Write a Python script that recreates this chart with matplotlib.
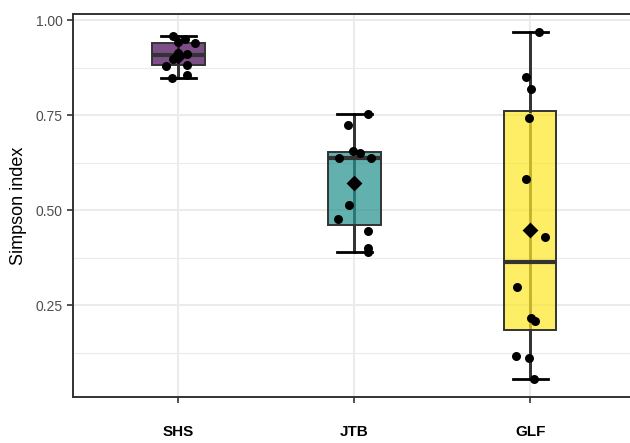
import numpy as np
import matplotlib
matplotlib.use("Agg")
import matplotlib.pyplot as plt

plt.rcParams['font.family'] = ['Liberation Sans', 'DejaVu Sans']

sites = ["SHS", "JTB", "GLF"]
colors = ["#440154", "#21908C", "#FDE725"]

shs = [0.958, 0.950, 0.943, 0.940, 0.915, 0.910, 0.905, 0.898, 0.882, 0.879, 0.855, 0.848]
jtb = [0.753, 0.724, 0.655, 0.650, 0.637, 0.637, 0.513, 0.476, 0.445, 0.400, 0.389]
glf = [0.968, 0.850, 0.818, 0.742, 0.582, 0.429, 0.297, 0.216, 0.208, 0.116, 0.111, 0.055]

# horizontal jitter (in category units)
shs_jit = [-0.03, 0.035, 0.0, 0.095, -0.005, 0.05, 0.0, -0.03, 0.05, -0.07, 0.05, -0.035]
jtb_jit = [0.08, -0.035, -0.01, 0.035, -0.085, 0.095, -0.03, -0.09, 0.08, 0.08, 0.08]
glf_jit = [0.05, -0.025, 0.005, -0.005, -0.025, 0.085, -0.075, 0.005, 0.03, -0.08, -0.005, 0.02]

data = [shs, jtb, glf]
jits = [shs_jit, jtb_jit, glf_jit]

fig = plt.figure(figsize=(6.3, 4.43), dpi=100)
ax = fig.add_axes([73 / 630, 46 / 443, 562.6 / 630, 383 / 443])

pos = [1, 2, 3]
edge = "#333333"

# whisker line running through the box (seen through the transparent fill)
for p, vals in zip(pos, data):
    ax.plot([p, p], [min(vals), max(vals)], color=edge, lw=2.0, zorder=2, solid_capstyle="butt")

bp = ax.boxplot(data, positions=pos, widths=0.3, patch_artist=True, whis=1.5,
                showfliers=False, showcaps=True, manage_ticks=False,
                boxprops=dict(edgecolor=edge, linewidth=1.4),
                medianprops=dict(color=edge, linewidth=3.0),
                whiskerprops=dict(color=edge, linewidth=2.0),
                capprops=dict(color="black", linewidth=2.0),
                zorder=3)
for patch, c in zip(bp["boxes"], colors):
    patch.set_facecolor(matplotlib.colors.to_rgba(c, 0.7))
for cap in bp["caps"]:
    xd = cap.get_xdata()
    m = (xd[0] + xd[1]) / 2
    cap.set_xdata([m - 0.1, m + 0.1])

for p, vals, jit in zip(pos, data, jits):
    ax.scatter(np.array(jit) + p, vals, s=42, color="black", zorder=5, linewidths=0)
    ax.scatter([p], [np.mean(vals)], marker="D", s=65, color="black", zorder=6, linewidths=0)

ax.set_xlim(0.4, 3.6)
ax.set_ylim(0.0085, 1.0165)
ax.set_yticks([0.25, 0.5, 0.75, 1.0])
ax.set_yticklabels(["0.25", "0.50", "0.75", "1.00"])
ax.set_yticks([0.125, 0.375, 0.625, 0.875], minor=True)
ax.set_xticks(pos)
ax.set_xticklabels(sites, fontweight="bold", fontsize=11)

ax.grid(True, which="major", color="#ebebeb", lw=1.5, zorder=0)
ax.grid(True, which="minor", axis="y", color="#ebebeb", lw=0.8, zorder=0)
ax.set_axisbelow(True)

ax.tick_params(axis="y", which="major", labelsize=10, labelcolor="#4d4d4d", color=edge, length=4, width=1.2)
ax.tick_params(axis="y", which="minor", length=0)
ax.tick_params(axis="x", length=4, width=1.2, color=edge, pad=21, labelcolor="black")
for lbl in ax.get_xticklabels():
    lbl.set_verticalalignment("center")
for s in ax.spines.values():
    s.set_color(edge)
    s.set_linewidth(1.4)

ax.set_ylabel("Simpson index", fontsize=13, labelpad=6)

fig.savefig("out.png", dpi=100)
